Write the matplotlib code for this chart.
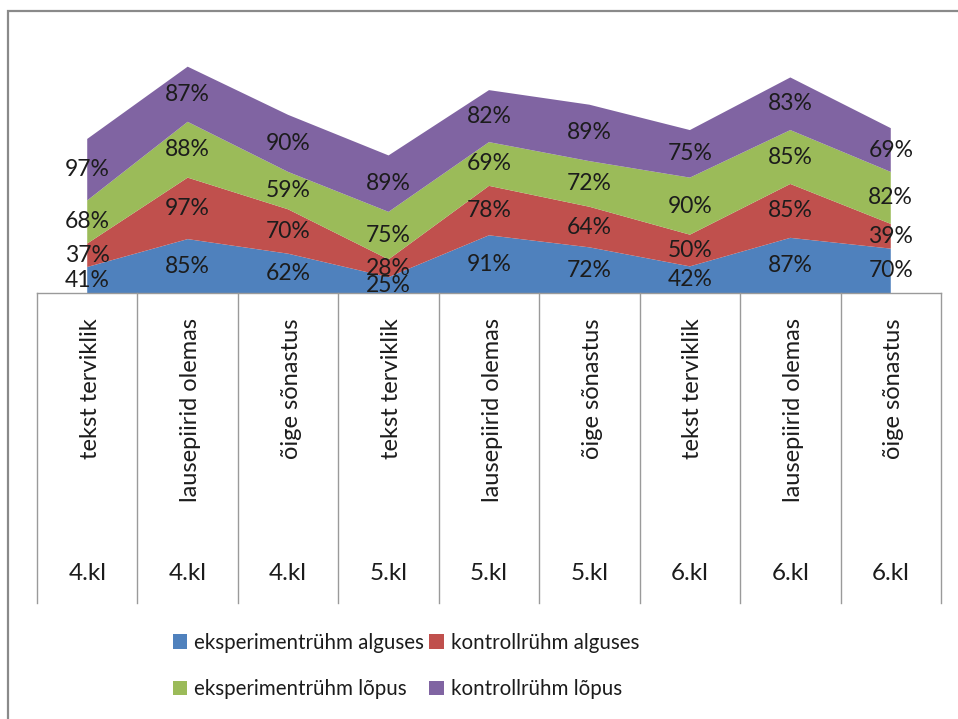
import matplotlib
matplotlib.use("Agg")
import matplotlib.pyplot as plt
from matplotlib.patches import Rectangle
from matplotlib.lines import Line2D
import matplotlib.transforms as mtransforms
import numpy as np

plt.rcParams['font.family'] = ['Lato', 'DejaVu Sans']

# Category levels
criteria = ["tekst terviklik", "lausepiirid olemas", "õige sõnastus"] * 3
grades = ["4.kl"] * 3 + ["5.kl"] * 3 + ["6.kl"] * 3

# Series values (%)
series_names = ["eksperimentrühm alguses", "kontrollrühm alguses",
                "eksperimentrühm lõpus", "kontrollrühm lõpus"]
exp_start = [41, 85, 62, 25, 91, 72, 42, 87, 70]
ctrl_start = [37, 97, 70, 28, 78, 64, 50, 85, 39]
exp_end = [68, 88, 59, 75, 69, 72, 90, 85, 82]
ctrl_end = [97, 87, 90, 89, 82, 89, 75, 83, 69]

colors = ["#4F81BD", "#C0504D", "#9BBB59", "#8064A2"]
text_color = "#1c1c1c"
line_gray = "#9a9a9a"

W, H = 958, 719
fig = plt.figure(figsize=(W / 100, H / 100), dpi=100)

# Outer chart frame
fig.patches.append(Rectangle((8 / W, -0.1), 1.2, 1.1 - 11 / H,
                             transform=fig.transFigure, fill=False,
                             edgecolor="#8a8a8a", linewidth=1.6))

ax_left, ax_right = 37, 941
ax_top, ax_bottom = 39.4, 293
ax = fig.add_axes([ax_left / W, 1 - ax_bottom / H,
                   (ax_right - ax_left) / W, (ax_bottom - ax_top) / H])

x = np.arange(len(criteria))
data = [exp_start, ctrl_start, exp_end, ctrl_end]
ax.stackplot(x, *data, colors=colors, linewidth=0)

# Data labels centred in each band
base = np.zeros(len(x))
for vals in data:
    v = np.array(vals, dtype=float)
    for xi, b, val in zip(x, base, v):
        ax.text(xi, b + val / 2, f"{int(val)}%", ha="center", va="center",
                fontsize=16.5, color=text_color, clip_on=False)
    base = base + v

ax.set_xlim(-0.5, len(x) - 0.5)
ax.set_ylim(0, 400)
ax.set_xticks([])
ax.set_yticks([])
for s in ["top", "left", "right"]:
    ax.spines[s].set_visible(False)
ax.spines["bottom"].set_color(line_gray)
ax.spines["bottom"].set_linewidth(1.0)
ax.patch.set_alpha(0)

# Multi-level category axis
ax_h = ax_bottom - ax_top
trans = mtransforms.blended_transform_factory(ax.transData, ax.transAxes)
y_line_end = (ax_bottom - 603) / ax_h
for b in np.arange(-0.5, len(x), 1.0):
    ax.add_line(Line2D([b, b], [0, y_line_end], transform=trans,
                       color=line_gray, linewidth=1.0, clip_on=False))

y_lvl1 = (ax_bottom - 318) / ax_h
y_lvl2 = (ax_bottom - 573) / ax_h
for xi, c, g in zip(x, criteria, grades):
    ax.text(xi + 0.03, y_lvl1, c, rotation=90, ha="center", va="top",
            fontsize=17, color=text_color, transform=trans, clip_on=False)
    ax.text(xi, y_lvl2, g, ha="center", va="center",
            fontsize=17.5, color=text_color, transform=trans, clip_on=False)

# Legend, filled row by row
order = [0, 2, 1, 3]
handles = [Rectangle((0, 0), 1, 1, facecolor=colors[i], edgecolor="none") for i in order]
labels = [series_names[i] for i in order]
fig.legend(handles, labels, ncol=2, frameon=False,
           loc="center", bbox_to_anchor=(406 / W, 1 - 666 / H),
           fontsize=14.8, handlelength=0.7, handleheight=0.7,
           handletextpad=0.35, columnspacing=0.25, labelspacing=1.3,
           labelcolor=text_color)

fig.savefig("out.png", dpi=100)
